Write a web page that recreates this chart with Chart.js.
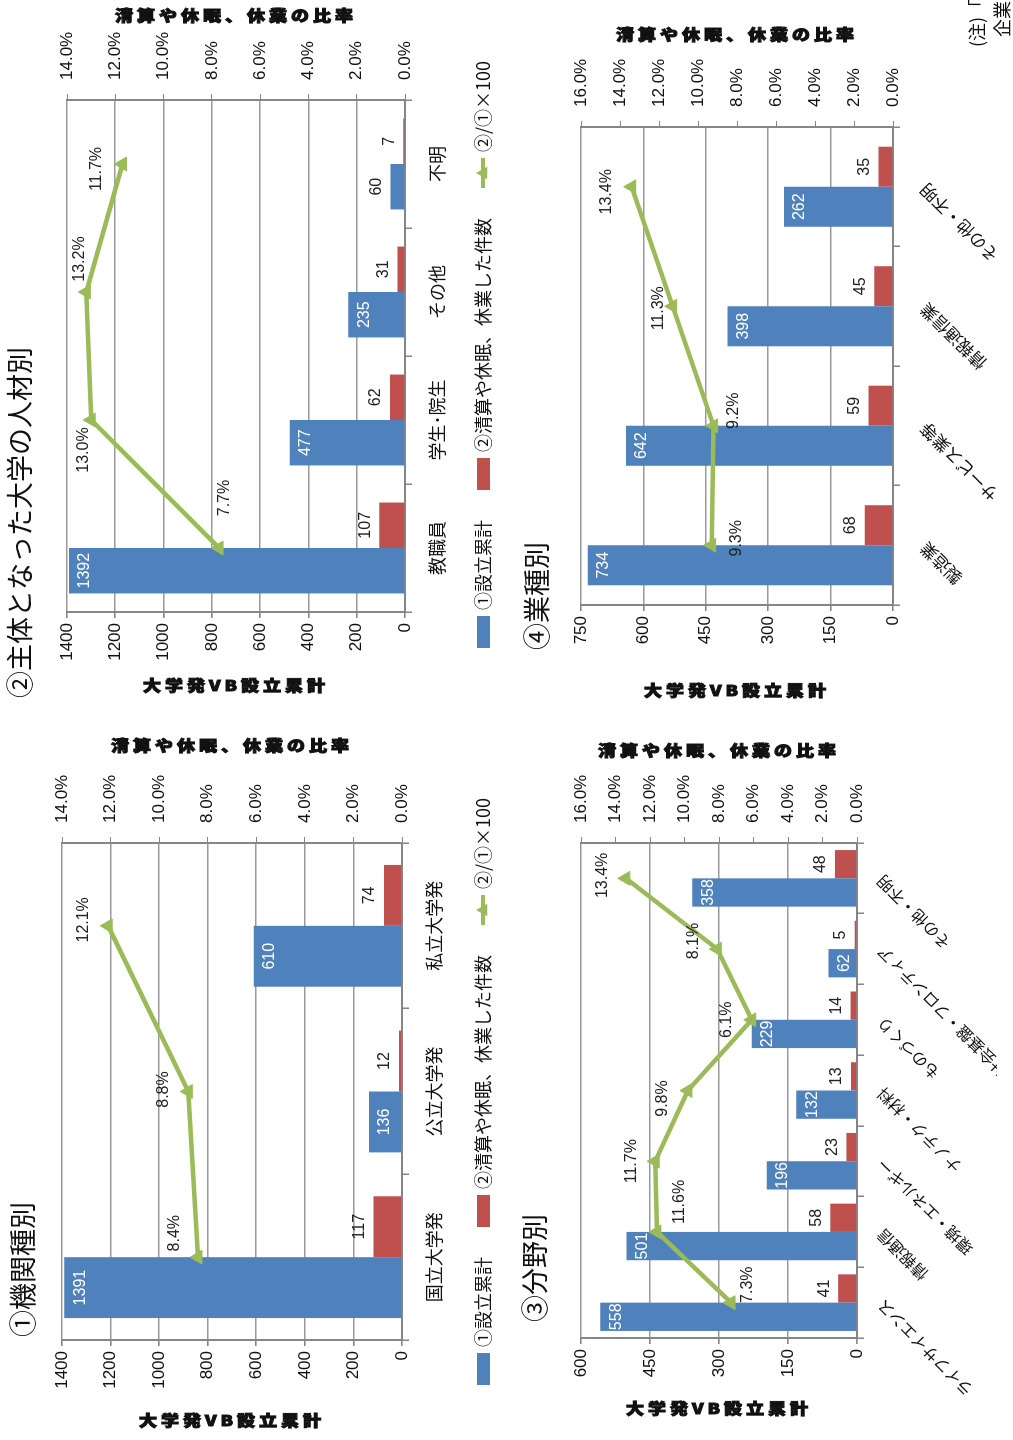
<!DOCTYPE html>
<html>
<head>
<meta charset="utf-8">
<script src="https://cdn.jsdelivr.net/npm/chart.js@4.4.1/dist/chart.umd.min.js"></script>
<style>
  html, body { margin: 0; padding: 0; background: #fff; }
  body { width: 1013px; height: 1440px; overflow: hidden; position: relative; }
  /* the page is laid out landscape and turned a quarter turn to the left */
  #page { position: absolute; left: 0; top: 0; width: 1440px; height: 1013px;
          transform-origin: 0 0; transform: translateY(1440px) rotate(-90deg); }
  #page canvas { position: absolute; }
</style>
</head>
<body>
<div id="page">
  <canvas id="chart-kikan" width="720" height="505" style="left:0;top:0"></canvas>
  <canvas id="chart-jinzai" width="720" height="505" style="left:720px;top:0"></canvas>
  <canvas id="chart-bunya" width="720" height="508" style="left:0;top:505px"></canvas>
  <canvas id="chart-gyoshu" width="720" height="508" style="left:720px;top:505px"></canvas>
</div>
<script>
// ① 機関種別
const kikanLabels = ['国立大学発', '公立大学発', '私立大学発'];
const kikanTotal = [1391, 136, 610];
const kikanClosed = [117, 12, 74];
const kikanRatio = [8.4, 8.8, 12.1];
const kikanCountTicks = [0, 200, 400, 600, 800, 1000, 1200, 1400];
const kikanPctTicks = [0, 2, 4, 6, 8, 10, 12, 14];

// ② 主体となった大学の人材別
const jinzaiLabels = ['教職員', '学生･院生', 'その他', '不明'];
const jinzaiTotal = [1392, 477, 235, 60];
const jinzaiClosed = [107, 62, 31, 7];
const jinzaiRatio = [7.7, 13.0, 13.2, 11.7];
const jinzaiCountTicks = [0, 200, 400, 600, 800, 1000, 1200, 1400];
const jinzaiPctTicks = [0, 2, 4, 6, 8, 10, 12, 14];

// ③ 分野別
const bunyaLabels = ['ライフサイエンス', '情報通信', '環境・エネルギー', 'ナノテク・材料', 'ものづくり', '社会基盤・フロンティア', 'その他・不明'];
const bunyaTotal = [558, 501, 196, 132, 229, 62, 358];
const bunyaClosed = [41, 58, 23, 13, 14, 5, 48];
const bunyaRatio = [7.3, 11.6, 11.7, 9.8, 6.1, 8.1, 13.4];
const bunyaCountTicks = [0, 150, 300, 450, 600];
const bunyaPctTicks = [0, 2, 4, 6, 8, 10, 12, 14, 16];

// ④ 業種別
const gyoshuLabels = ['製造業', 'サービス業等', '情報通信業', 'その他・不明'];
const gyoshuTotal = [734, 642, 398, 262];
const gyoshuClosed = [68, 59, 45, 35];
const gyoshuRatio = [9.3, 9.2, 11.3, 13.4];
const gyoshuCountTicks = [0, 150, 300, 450, 600, 750];
const gyoshuPctTicks = [0, 2, 4, 6, 8, 10, 12, 14, 16];

const seriesNames = ['①設立累計', '②清算や休眠、休業した件数', '②/①×100'];
const countTitle = '大学発VB設立累計';
const pctTitle = '清算や休眠、休業の比率';

const JP = "'Noto Sans CJK JP', 'Noto Sans', sans-serif";
const NUM = "'Liberation Sans Narrow', 'Liberation Sans', sans-serif";
const BLUE = '#4F81BD', RED = '#C0504D', GREEN = '#9BBB59';
const GRID = '#9A9A9A', AXIS = '#868686';

// heavy squat axis title, reading top to bottom
function axisTitle(ctx, text, x, y) {
    ctx.save();
    ctx.translate(x, y);
    ctx.rotate(Math.PI / 2);
    ctx.scale(1, 0.82);
    ctx.font = `900 18px ${JP}`;
    ctx.letterSpacing = '4px';
    ctx.textAlign = 'center';
    ctx.textBaseline = 'middle';
    ctx.fillStyle = '#111';
    ctx.strokeStyle = '#111';
    ctx.lineWidth = 1.2;
    ctx.fillText(text, 0, 0);
    ctx.strokeText(text, 0, 0);
    ctx.restore();
}

function triangle(ctx, x, y, r) {
    ctx.beginPath();
    ctx.moveTo(x, y - r);
    ctx.lineTo(x + r * 0.9, y + r * 0.6);
    ctx.lineTo(x - r * 0.9, y + r * 0.6);
    ctx.closePath();
    ctx.fill();
}

// titles, axis titles, legend and data labels
const decor = {
    id: 'decor',
    afterDatasetsDraw(chart, args, o) {
        const ctx = chart.ctx;
        const ds = chart.data.datasets;
        ctx.save();
        ctx.font = `16px ${NUM}`;
        ctx.textAlign = 'center';

        chart.getDatasetMeta(0).data.forEach((bar, i) => {
            if (bar.base - bar.y > 26) {
                ctx.fillStyle = '#fff';
                ctx.textBaseline = 'top';
                ctx.fillText(ds[0].data[i], bar.x, bar.y + 8);
            } else {
                ctx.fillStyle = '#222';
                ctx.textBaseline = 'bottom';
                ctx.fillText(ds[0].data[i], bar.x, bar.y - 6);
            }
        });
        chart.getDatasetMeta(1).data.forEach((bar, i) => {
            ctx.fillStyle = '#222';
            ctx.textBaseline = 'bottom';
            ctx.fillText(ds[1].data[i], bar.x, bar.y - 6);
        });
        chart.getDatasetMeta(2).data.forEach((pt, i) => {
            const off = o.pctOffsets[i];
            ctx.fillStyle = '#222';
            ctx.textBaseline = 'middle';
            ctx.fillText(ds[2].data[i].toFixed(1) + '%', pt.x + off[0], pt.y + off[1]);
        });
        ctx.restore();
    },
    afterDraw(chart, args, o) {
        const ctx = chart.ctx;
        const a = chart.chartArea;
        const mid = (a.top + a.bottom) / 2;
        ctx.save();
        ctx.fillStyle = '#111';
        ctx.font = `27px ${JP}`;
        ctx.textAlign = 'left';
        ctx.textBaseline = 'middle';
        ctx.fillText(o.title, o.titleX, o.titleY);

        axisTitle(ctx, countTitle, o.leftTitleX, mid);
        axisTitle(ctx, pctTitle, o.rightTitleX, mid);

        if (o.legendX != null) {
            let x = o.legendX;
            const y = o.legendY;
            ctx.font = `18px ${JP}`;
            ctx.textBaseline = 'middle';
            [BLUE, RED].forEach((c, i) => {
                ctx.fillStyle = c;
                ctx.fillRect(x, y - 6, 32, 13);
                x += 38;
                ctx.fillStyle = '#111';
                ctx.fillText(seriesNames[i], x, y);
                x += ctx.measureText(seriesNames[i]).width + 30;
            });
            ctx.strokeStyle = GREEN;
            ctx.fillStyle = GREEN;
            ctx.lineWidth = 4;
            ctx.beginPath();
            ctx.moveTo(x, y);
            ctx.lineTo(x + 30, y);
            ctx.stroke();
            triangle(ctx, x + 15, y, 7);
            x += 36;
            ctx.fillStyle = '#111';
            ctx.fillText(seriesNames[2], x, y);
        }

        if (o.note) {
            ctx.font = `18px ${JP}`;
            ctx.textBaseline = 'middle';
            o.note.forEach(n => ctx.fillText(n[0], n[1], n[2]));
        }
        ctx.restore();
    }
};

function makeChart(id, c) {
    const el = document.getElementById(id);
    const W = el.width, H = el.height;
    const leftW = 60, rightW = 80;
    const tickFont = { family: NUM, size: 17 };
    return new Chart(el, {
        type: 'bar',
        data: {
            labels: c.labels,
            datasets: [
                { label: seriesNames[0], data: c.total, backgroundColor: BLUE, yAxisID: 'y', order: 1,
                  categoryPercentage: c.catPct, barPercentage: 1 },
                { label: seriesNames[1], data: c.closed, backgroundColor: RED, yAxisID: 'y', order: 1,
                  categoryPercentage: c.catPct, barPercentage: 1 },
                { type: 'line', label: seriesNames[2], data: c.ratio, yAxisID: 'y1', order: 0,
                  borderColor: GREEN, backgroundColor: GREEN, borderWidth: 4.5, tension: 0,
                  pointStyle: 'triangle', pointRadius: 8, pointBorderWidth: 1 }
            ]
        },
        options: {
            responsive: false,
            animation: false,
            devicePixelRatio: 1,
            layout: {
                autoPadding: false,
                padding: {
                    left: c.area.left - leftW,
                    right: W - c.area.right - rightW,
                    top: c.area.top,
                    bottom: H - c.area.bottom - c.xh
                }
            },
            plugins: {
                legend: { display: false },
                tooltip: { enabled: false },
                decor: c.decor
            },
            scales: {
                x: {
                    grid: { display: true, drawOnChartArea: false, offset: true, tickLength: 7, color: AXIS, lineWidth: 1.5 },
                    border: { color: AXIS, width: 2 },
                    ticks: { color: '#111', font: { family: JP, size: c.xFont }, padding: c.xPad,
                             minRotation: c.rot, maxRotation: c.rot, autoSkip: false },
                    afterFit: s => { s.height = c.xh; }
                },
                y: {
                    position: 'left',
                    min: c.countTicks[0],
                    max: c.countTicks[c.countTicks.length - 1],
                    afterBuildTicks: s => { s.ticks = c.countTicks.map(v => ({ value: v })); },
                    grid: { color: GRID, lineWidth: 1.6, tickLength: 6, tickColor: AXIS },
                    border: { color: AXIS, width: 2 },
                    ticks: { color: '#111', font: tickFont, padding: 5, callback: v => String(v) },
                    afterFit: s => { s.width = leftW; }
                },
                y1: {
                    position: 'right',
                    min: c.pctTicks[0],
                    max: c.pctTicks[c.pctTicks.length - 1],
                    afterBuildTicks: s => { s.ticks = c.pctTicks.map(v => ({ value: v })); },
                    grid: { drawOnChartArea: false, tickLength: 6, color: AXIS },
                    border: { color: AXIS, width: 2 },
                    ticks: { color: '#111', font: tickFont, padding: 14, callback: v => v.toFixed(1) + '%' },
                    afterFit: s => { s.width = rightW; }
                }
            }
        },
        plugins: [decor]
    });
}

makeChart('chart-kikan', {
    labels: kikanLabels, total: kikanTotal, closed: kikanClosed, ratio: kikanRatio,
    countTicks: kikanCountTicks, pctTicks: kikanPctTicks,
    area: { left: 100, right: 597, top: 62, bottom: 402 }, xh: 60, xFont: 18, xPad: 14, rot: 0, catPct: 0.735,
    decor: { title: '①機関種別', titleX: 103, titleY: 23, leftTitleX: 20, rightTitleX: 695,
             legendX: 55, legendY: 483, pctOffsets: [[24, -23], [2, -25], [6, -25]] }
});

makeChart('chart-jinzai', {
    labels: jinzaiLabels, total: jinzaiTotal, closed: jinzaiClosed, ratio: jinzaiRatio,
    countTicks: jinzaiCountTicks, pctTicks: jinzaiPctTicks,
    area: { left: 108, right: 620, top: 67, bottom: 405 }, xh: 60, xFont: 18, xPad: 14, rot: 0, catPct: 0.71,
    decor: { title: '②主体となった大学の人材別', titleX: 22, titleY: 20, leftTitleX: 35, rightTitleX: 705,
             legendX: 72, legendY: 483, pctOffsets: [[50, 5], [-30, -8], [33, -7], [-5, -26]] }
});

makeChart('chart-bunya', {
    labels: bunyaLabels, total: bunyaTotal, closed: bunyaClosed, ratio: bunyaRatio,
    countTicks: bunyaCountTicks, pctTicks: bunyaPctTicks,
    area: { left: 102, right: 597, top: 76, bottom: 352 }, xh: 140, xFont: 16, xPad: 9, rot: 45, catPct: 0.8,
    decor: { title: '③分野別', titleX: 118, titleY: 30, leftTitleX: 32, rightTitleX: 690,
             pctOffsets: [[18, 17], [30, 23], [0, -24], [-8, -25], [0, -25], [8, -24], [3, -23]] }
});

makeChart('chart-gyoshu', {
    labels: gyoshuLabels, total: gyoshuTotal, closed: gyoshuClosed, ratio: gyoshuRatio,
    countTicks: gyoshuCountTicks, pctTicks: gyoshuPctTicks,
    area: { left: 115, right: 593, top: 76, bottom: 388 }, xh: 110, xFont: 17, xPad: 16, rot: 45, catPct: 0.67,
    decor: { title: '④業種別', titleX: 70, titleY: 32, leftTitleX: 30, rightTitleX: 686,
             pctOffsets: [[7, 25], [15, 20], [-2, -14], [-5, -25]],
             note: [['(注)「清算や休眠、休業した件数」', 673, 472], ['企業を', 683, 497]] }
});
</script>
</body>
</html>
